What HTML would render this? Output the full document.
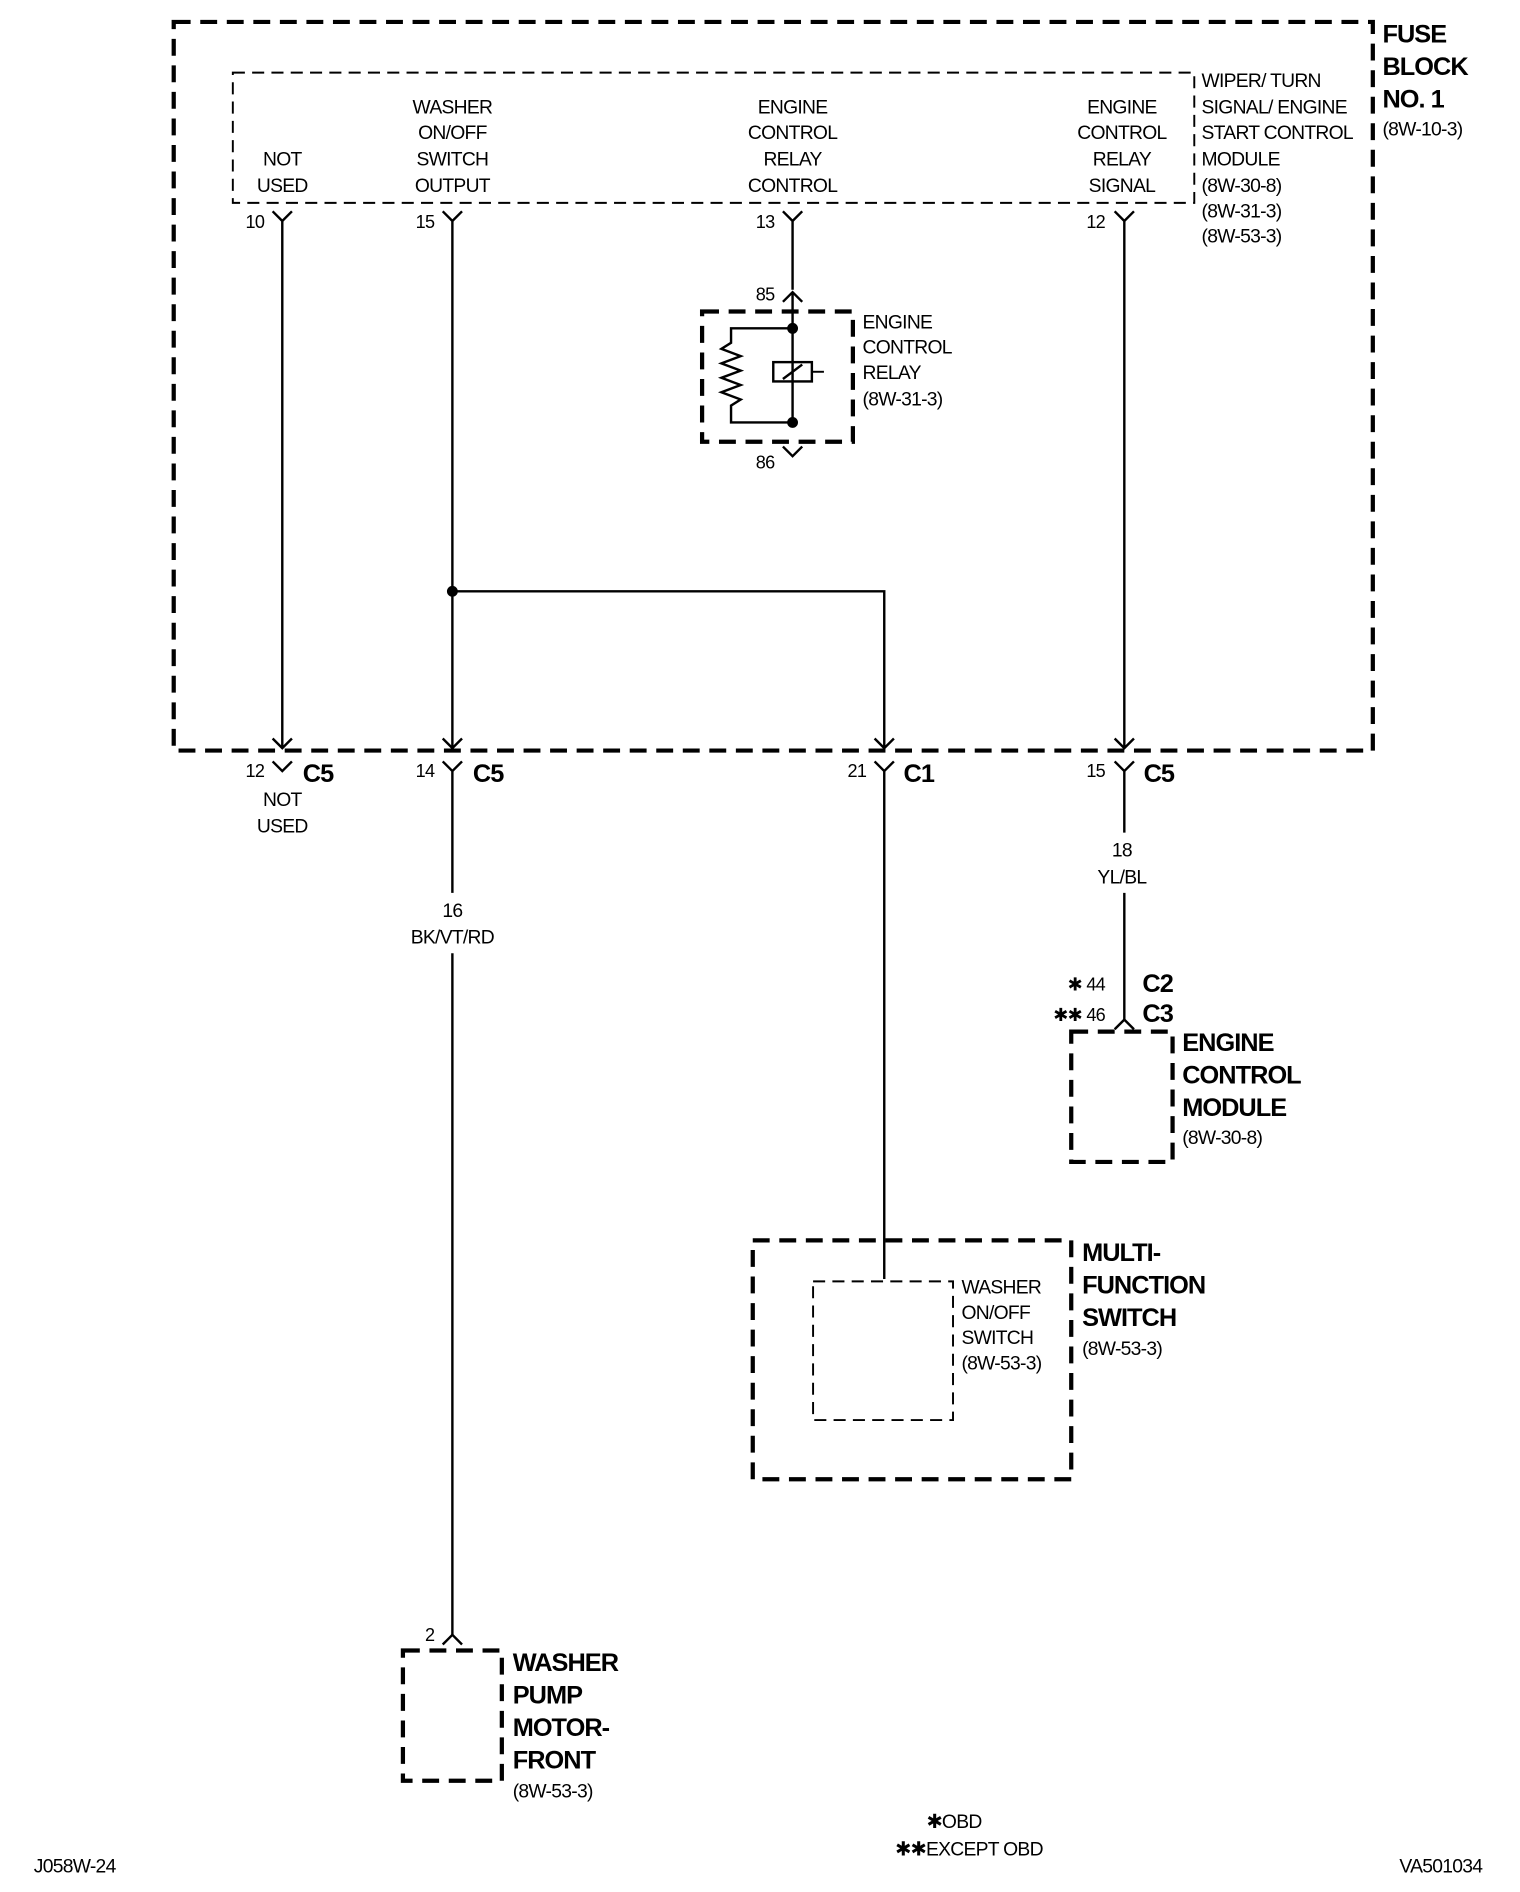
<!DOCTYPE html>
<html><head><meta charset="utf-8"><style>
html,body{margin:0;padding:0;background:#fff;}
svg{display:block;}
text{font-family:"Liberation Sans",sans-serif;fill:#000;}
.t{font-size:16px;letter-spacing:-0.6px;}
.b{font-size:21px;font-weight:bold;letter-spacing:-0.8px;}
.s{font-size:15px;letter-spacing:-0.6px;}
</style></head><body>
<svg width="1520" height="1892" viewBox="0 0 1260 1568" xmlns="http://www.w3.org/2000/svg">
<g fill="none" stroke="#000">
<g stroke-width="3.5" stroke-dasharray="14 8">
<rect x="144" y="18" width="994" height="604"/>
<rect x="582" y="258" width="125" height="108"/>
<rect x="888" y="855" width="84" height="108"/>
<rect x="624" y="1028" width="264" height="198"/>
<rect x="334" y="1368" width="82" height="108"/>
</g>
<g stroke-width="1.6" stroke-dasharray="10 6">
<rect x="193" y="60" width="797" height="108"/>
<rect x="674" y="1062" width="116" height="115"/>
<line x1="673" y1="308" x2="688" y2="308"/>
</g>
<g stroke-width="2">
<path d="M226 175 L234 183 L242 175 M234 183 V620"/>
<path d="M367 175 L375 183 L383 175 M375 183 V620"/>
<path d="M649 175 L657 183 L665 175 M657 183 V240"/>
<path d="M924 175 L932 183 L940 175 M932 183 V620"/>
<path d="M226 612 L234 620 L242 612"/>
<path d="M367 612 L375 620 L383 612"/>
<path d="M725 612 L733 620 L741 612"/>
<path d="M924 612 L932 620 L940 612"/>
<path d="M226 631 L234 639 L242 631"/>
<path d="M367 631 L375 639 L383 631 M375 639 V740 M375 790 V1355"/>
<path d="M725 631 L733 639 L741 631 M733 639 V1060"/>
<path d="M924 631 L932 639 L940 631 M932 639 V690 M932 740 V845"/>
<path d="M375 490 H733 V620"/>
<path d="M924 853 L932 845 L940 853"/>
<path d="M367 1363 L375 1355 L383 1363"/>
<path d="M649 250 L657 242 L665 250 M657 242 V350"/>
<path d="M649 370 L657 378 L665 370"/>
<path d="M657 272 H606 V284 L598 289 L614 295 L598 301 L614 307 L598 313 L614 319 L598 325 L614 331 L606 336 V350 H657"/>
<rect x="641" y="300" width="32" height="16"/>
<line x1="649" y1="314" x2="665" y2="302"/>
</g>
</g>
<circle cx="375" cy="490" r="4.5"/>
<circle cx="657" cy="272" r="4.5"/>
<circle cx="657" cy="350" r="4.5"/>
<g class="t" text-anchor="middle">
<text x="234" y="137">NOT</text><text x="234" y="159">USED</text>
<text x="375" y="94">WASHER</text><text x="375" y="115">ON/OFF</text><text x="375" y="137">SWITCH</text><text x="375" y="159">OUTPUT</text>
<text x="657" y="94">ENGINE</text><text x="657" y="115">CONTROL</text><text x="657" y="137">RELAY</text><text x="657" y="159">CONTROL</text>
<text x="930" y="94">ENGINE</text><text x="930" y="115">CONTROL</text><text x="930" y="137">RELAY</text><text x="930" y="159">SIGNAL</text>
<text x="234" y="668">NOT</text><text x="234" y="690">USED</text>
<text x="375" y="760">16</text><text x="375" y="782">BK/VT/RD</text>
<text x="930" y="710">18</text><text x="930" y="732">YL/BL</text>
</g>
<g class="t">
<text x="996" y="72">WIPER/ TURN</text><text x="996" y="94">SIGNAL/ ENGINE</text><text x="996" y="115">START CONTROL</text><text x="996" y="137">MODULE</text><text x="996" y="159">(8W-30-8)</text><text x="996" y="180">(8W-31-3)</text><text x="996" y="201">(8W-53-3)</text>
<text x="1146" y="112">(8W-10-3)</text>
<text x="715" y="272">ENGINE</text><text x="715" y="293">CONTROL</text><text x="715" y="314">RELAY</text><text x="715" y="336">(8W-31-3)</text>
<text x="980" y="948">(8W-30-8)</text>
<text x="797" y="1072">WASHER</text><text x="797" y="1093">ON/OFF</text><text x="797" y="1114">SWITCH</text><text x="797" y="1135">(8W-53-3)</text>
<text x="897" y="1123">(8W-53-3)</text>
<text x="425" y="1490">(8W-53-3)</text>
<text x="768" y="1515">✱OBD</text><text x="742" y="1538">✱✱EXCEPT OBD</text>
<text x="28" y="1552">J058W-24</text><text x="1160" y="1552">VA501034</text>
</g>
<g class="s" text-anchor="end">
<text x="219" y="189">10</text><text x="360" y="189">15</text><text x="642" y="189">13</text><text x="916" y="189">12</text>
<text x="642" y="249">85</text><text x="642" y="388">86</text>
<text x="219" y="644">12</text><text x="360" y="644">14</text><text x="718" y="644">21</text><text x="916" y="644">15</text>
<text x="916" y="821">✱ 44</text><text x="916" y="846">✱✱ 46</text>
<text x="360" y="1360">2</text>
</g>
<g class="b">
<text x="1146" y="35">FUSE</text><text x="1146" y="62">BLOCK</text><text x="1146" y="89">NO. 1</text>
<text x="251" y="648">C5</text><text x="392" y="648">C5</text><text x="749" y="648">C1</text><text x="948" y="648">C5</text>
<text x="947" y="822">C2</text><text x="947" y="847">C3</text>
<text x="980" y="871">ENGINE</text><text x="980" y="898">CONTROL</text><text x="980" y="925">MODULE</text>
<text x="897" y="1045">MULTI-</text><text x="897" y="1072">FUNCTION</text><text x="897" y="1099">SWITCH</text>
<text x="425" y="1385">WASHER</text><text x="425" y="1412">PUMP</text><text x="425" y="1439">MOTOR-</text><text x="425" y="1466">FRONT</text>
</g>
</svg>
</body></html>
